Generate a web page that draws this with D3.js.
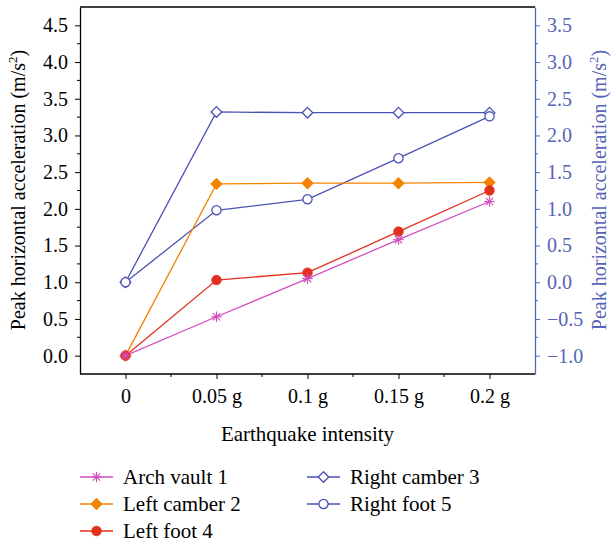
<!DOCTYPE html>
<html>
<head>
<meta charset="utf-8">
<script src="https://cdn.jsdelivr.net/npm/d3@7"></script>
<style>
  html, body { margin: 0; padding: 0; background: #fff; }
  svg { display: block; }
  text { font-family: "Liberation Serif", "DejaVu Serif", serif; }
</style>
</head>
<body>
<svg id="chart" width="611" height="543"></svg>
<script>
// Earthquake intensity levels (x categories)
const categories = ["0", "0.05 g", "0.1 g", "0.15 g", "0.2 g"];

// Peak horizontal acceleration (m/s^2), left-axis series
const archVault1   = [0.00, 0.53, 1.05, 1.58, 2.10];
const leftCamber2  = [0.00, 2.34, 2.35, 2.35, 2.36];
const leftFoot4    = [0.00, 1.03, 1.13, 1.69, 2.25];
// Right-axis series
const rightCamber3 = [0.00, 2.32, 2.31, 2.31, 2.31];
const rightFoot5   = [0.00, 0.98, 1.13, 1.69, 2.26];

const leftTicks  = [0, 0.5, 1, 1.5, 2, 2.5, 3, 3.5, 4, 4.5];
const rightTicks = [-1, -0.5, 0, 0.5, 1, 1.5, 2, 2.5, 3, 3.5];

const colors = {
  arch: "#d24fbf",
  lcamber: "#f38300",
  lfoot: "#e2301f",
  blue: "#4a52b3",
  axisBlue: "#5563b8"
};

const series = [
  { name: "Arch vault 1",   values: archVault1,   axis: "left",  color: colors.arch,    marker: "asterisk" },
  { name: "Left camber 2",  values: leftCamber2,  axis: "left",  color: colors.lcamber, marker: "diamondFilled" },
  { name: "Left foot 4",    values: leftFoot4,    axis: "left",  color: colors.lfoot,   marker: "circleFilled" },
  { name: "Right camber 3", values: rightCamber3, axis: "right", color: colors.blue,    marker: "diamondOpen" },
  { name: "Right foot 5",   values: rightFoot5,   axis: "right", color: colors.blue,    marker: "circleOpen" }
];

const svg = d3.select("#chart");
const plot = { left: 80, right: 535, top: 7, bottom: 374 };

const x = d3.scaleLinear().domain([-0.5, categories.length - 0.5]).range([plot.left, plot.right]);
const yL = d3.scaleLinear().domain([-0.25, 4.75]).range([plot.bottom, plot.top]);
const yR = d3.scaleLinear().domain([-1.25, 3.75]).range([plot.bottom, plot.top]);

const tickFont = 20;
const titleFont = 20;
const xTitleFont = 21;
const legendFont = 21;

// Top frame line
svg.append("line")
  .attr("x1", plot.left).attr("x2", plot.right)
  .attr("y1", plot.top).attr("y2", plot.top)
  .attr("stroke", "#000").attr("stroke-width", 1.3);

function styleAxis(g, color) {
  g.select(".domain").attr("stroke", color).attr("stroke-width", 1.3);
  g.selectAll(".tick line").attr("stroke", color).attr("stroke-width", 1);
  g.selectAll(".tick text").attr("fill", color)
    .style("font-size", tickFont + "px")
    .style("font-family", "'Liberation Serif', serif");
}

// Minor ticks
function minorTicks(parent, positions, orient, color) {
  parent.selectAll(null).data(positions).enter().append("line")
    .attr("stroke", color).attr("stroke-width", 1)
    .each(function (d) {
      const s = d3.select(this);
      if (orient === "left") s.attr("x1", plot.left).attr("x2", plot.left - 3).attr("y1", yL(d)).attr("y2", yL(d));
      if (orient === "right") s.attr("x1", plot.right).attr("x2", plot.right + 3).attr("y1", yR(d)).attr("y2", yR(d));
      if (orient === "bottom") s.attr("x1", x(d)).attr("x2", x(d)).attr("y1", plot.bottom).attr("y2", plot.bottom + 3);
    });
}

// Bottom axis
const gx = svg.append("g").attr("transform", `translate(0,${plot.bottom})`)
  .call(d3.axisBottom(x).tickValues(d3.range(categories.length))
    .tickFormat(i => categories[i]).tickSize(5).tickSizeOuter(0).tickPadding(10));
styleAxis(gx, "#000");
gx.select(".domain").attr("d", `M${plot.left},0H${plot.right}`);
minorTicks(svg, d3.range(categories.length - 1).map(i => i + 0.5), "bottom", "#000");

// Left axis
const gyl = svg.append("g").attr("transform", `translate(${plot.left},0)`)
  .call(d3.axisLeft(yL).tickValues(leftTicks).tickFormat(d3.format(".1f")).tickSize(5).tickSizeOuter(0).tickPadding(7));
styleAxis(gyl, "#000");
minorTicks(svg, leftTicks.map(t => t + 0.25).filter(t => t > -0.25 && t < 4.75), "left", "#000");

// Right axis
const gyr = svg.append("g").attr("transform", `translate(${plot.right},0)`)
  .call(d3.axisRight(yR).tickValues(rightTicks)
    .tickFormat(d => d < 0 ? "\u2212" + d3.format(".1f")(-d) : d3.format(".1f")(d))
    .tickSize(5).tickSizeOuter(0).tickPadding(7));
styleAxis(gyr, colors.axisBlue);
minorTicks(svg, rightTicks.map(t => t + 0.25).filter(t => t > -1.25 && t < 3.75), "right", colors.axisBlue);

// Axis titles
function yTitle(xPos, color) {
  const t = svg.append("text")
    .attr("transform", `translate(${xPos},190) rotate(-90)`)
    .attr("text-anchor", "middle")
    .attr("fill", color)
    .style("font-size", titleFont + "px");
  t.append("tspan").text("Peak horizontal acceleration (m/s");
  t.append("tspan").text("2").attr("dy", -8).style("font-size", "13px");
  t.append("tspan").text(")").attr("dy", 8);
}
yTitle(25, "#000");
yTitle(606, colors.axisBlue);

svg.append("text")
  .attr("x", (plot.left + plot.right) / 2).attr("y", 441)
  .attr("text-anchor", "middle")
  .style("font-size", xTitleFont + "px")
  .text("Earthquake intensity");

// Marker drawing
function drawMarker(g, type, color) {
  if (type === "asterisk") {
    const r = 5.2;
    [0, 45, 90, 135].forEach(a => {
      const rad = a * Math.PI / 180;
      g.append("line")
        .attr("x1", -r * Math.cos(rad)).attr("y1", -r * Math.sin(rad))
        .attr("x2", r * Math.cos(rad)).attr("y2", r * Math.sin(rad))
        .attr("stroke", color).attr("stroke-width", 1.2);
    });
  } else if (type === "diamondFilled" || type === "diamondOpen") {
    const r = 5.3;
    g.append("path").attr("d", `M0,${-r}L${r},0L0,${r}L${-r},0Z`)
      .attr("fill", type === "diamondFilled" ? color : "#fff")
      .attr("stroke", color).attr("stroke-width", 1.3);
  } else if (type === "circleFilled") {
    g.append("circle").attr("r", 4.8).attr("fill", color).attr("stroke", color).attr("stroke-width", 0.8);
  } else if (type === "circleOpen") {
    g.append("circle").attr("r", 4.6).attr("fill", "#fff").attr("stroke", color).attr("stroke-width", 1.3);
  }
}

// Lines and markers (blue series first so they sit below the others at the origin)
const drawOrder = [3, 4, 1, 2, 0];
drawOrder.forEach(idx => {
  const s = series[idx];
  const yS = s.axis === "left" ? yL : yR;
  const line = d3.line().x((d, i) => x(i)).y(d => yS(d));
  svg.append("path").datum(s.values)
    .attr("d", line).attr("fill", "none")
    .attr("stroke", s.color).attr("stroke-width", 1.3);
});
drawOrder.forEach(idx => {
  const s = series[idx];
  const yS = s.axis === "left" ? yL : yR;
  s.values.forEach((v, i) => {
    const g = svg.append("g").attr("transform", `translate(${x(i)},${yS(v)})`);
    drawMarker(g, s.marker, s.color);
  });
});

// Legend
const legendItems = [
  { s: series[0], lx: 80, ly: 477 },
  { s: series[1], lx: 80, ly: 504 },
  { s: series[2], lx: 80, ly: 531 },
  { s: series[3], lx: 307, ly: 477 },
  { s: series[4], lx: 307, ly: 504 }
];
legendItems.forEach(it => {
  const g = svg.append("g").attr("transform", `translate(${it.lx},${it.ly})`);
  g.append("line").attr("x1", 0).attr("x2", 33).attr("y1", 0).attr("y2", 0)
    .attr("stroke", it.s.color).attr("stroke-width", 1.3);
  const m = g.append("g").attr("transform", "translate(16.5,0)");
  drawMarker(m, it.s.marker, it.s.color);
  g.append("text").attr("x", 43).attr("y", 7)
    .style("font-size", legendFont + "px")
    .text(it.s.name);
});
</script>
</body>
</html>
